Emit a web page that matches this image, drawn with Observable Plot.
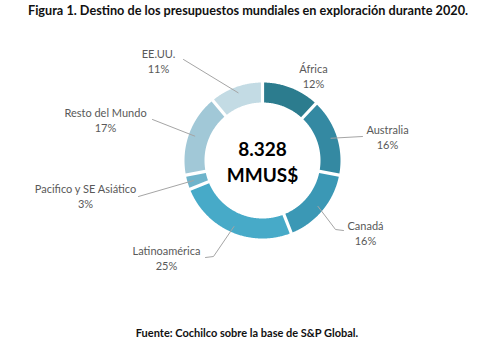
<!DOCTYPE html>
<html>
<head>
<meta charset="utf-8">
<script src="https://cdn.jsdelivr.net/npm/d3@7"></script>
<script src="https://cdn.jsdelivr.net/npm/@observablehq/plot@0.6"></script>
<style>
  html, body { margin: 0; padding: 0; background: #fff; }
  body { width: 494px; height: 352px; overflow: hidden; font-family: Lato, "Open Sans", sans-serif; }
  .title { height: 20px; line-height: 20px; text-align: center; font-weight: bold; font-size: 12.7px; color: #111; padding-left: 2px; white-space: nowrap; }
  .caption { height: 26px; line-height: 26px; text-align: center; font-weight: bold; font-size: 11px; color: #111; }
  #chart svg { display: block; }
</style>
</head>
<body>
<div class="title">Figura 1. Destino de los presupuestos mundiales en exploración durante 2020.</div>
<div id="chart"></div>
<div class="caption">Fuente: Cochilco sobre la base de S&amp;P Global.</div>
<script>
// ---- Data ----
const regions = ["África", "Australia", "Canadá", "Latinoamérica", "Pacifico y SE Asiático", "Resto del Mundo", "EE.UU."];
const shares = [12, 16, 16, 25, 3, 17, 11];
const totalValue = "8.328";
const totalUnit = "MMUS$";

// ---- Style / layout (not data) ----
const colors = ["#2c7c8e", "#3489a2", "#3b98b5", "#47aac8", "#6fb4cb", "#a1c8d7", "#c3dbe4"];
const R = 78, r = 58, gap = 1.6;
// manual label placement (Excel-style), relative to the donut centre, y up
const labelPos = [[51, 85], [125, 24], [103, -72], [-96, -97], [-177, -35], [-157, 41], [-104, 100]];
// leader line bend/end points per label (null = no leader)
const leaderEnds = [null, [[100, 24]], [[73, -69], [81, -70]], [[-49, -96], [-57, -97]], [[-124, -36]], [[-110, 41]], [[-79, 101]]];
const leaderR = 72;

const arcs = d3.pie().sort(null).value(d => d)(shares);

// ring slices as closed polygons
const slicePts = [];
arcs.forEach((a, i) => {
  const o0 = a.startAngle + gap / R, o1 = a.endAngle - gap / R;
  const i0 = a.startAngle + gap / r, i1 = a.endAngle - gap / r;
  const n = Math.max(4, Math.ceil((o1 - o0) / 0.01));
  for (let k = 0; k <= n; k++) {
    const t = o0 + (o1 - o0) * k / n;
    slicePts.push({region: regions[i], x: R * Math.sin(t), y: R * Math.cos(t)});
  }
  for (let k = 0; k <= n; k++) {
    const t = i1 - (i1 - i0) * k / n;
    slicePts.push({region: regions[i], x: r * Math.sin(t), y: r * Math.cos(t)});
  }
});

// leader lines
const leaderPts = [];
arcs.forEach((a, i) => {
  if (!leaderEnds[i]) return;
  const m = (a.startAngle + a.endAngle) / 2;
  leaderPts.push({region: regions[i], x: leaderR * Math.sin(m), y: leaderR * Math.cos(m)});
  leaderEnds[i].forEach(([x, y]) => leaderPts.push({region: regions[i], x, y}));
});

const labels = regions.map((name, i) => ({
  text: `${name}\n${shares[i]}%`, x: labelPos[i][0], y: labelPos[i][1]
}));

const chart = Plot.plot({
  width: 494,
  height: 300,
  margin: 0,
  style: {fontFamily: "Lato, 'Open Sans', sans-serif", background: "#fff"},
  x: {domain: [-262, 232], axis: null},
  y: {domain: [-160, 140], axis: null},
  color: {domain: regions, range: colors},
  marks: [
    Plot.line(slicePts, {x: "x", y: "y", z: "region", fill: "region", stroke: "none", curve: "linear-closed"}),
    Plot.line(leaderPts, {x: "x", y: "y", z: "region", stroke: "#a5a5a5", strokeWidth: 1}),
    Plot.text(labels, {x: "x", y: "y", text: "text", fill: "#595959", fontSize: 11, lineHeight: 1.36}),
    Plot.text([`${totalValue}\n${totalUnit}`], {x: () => 0, y: () => 0, text: d => d, fill: "#000", fontSize: 19, fontWeight: "bold", lineHeight: 1.35})
  ]
});
document.getElementById("chart").append(chart);
</script>
</body>
</html>
